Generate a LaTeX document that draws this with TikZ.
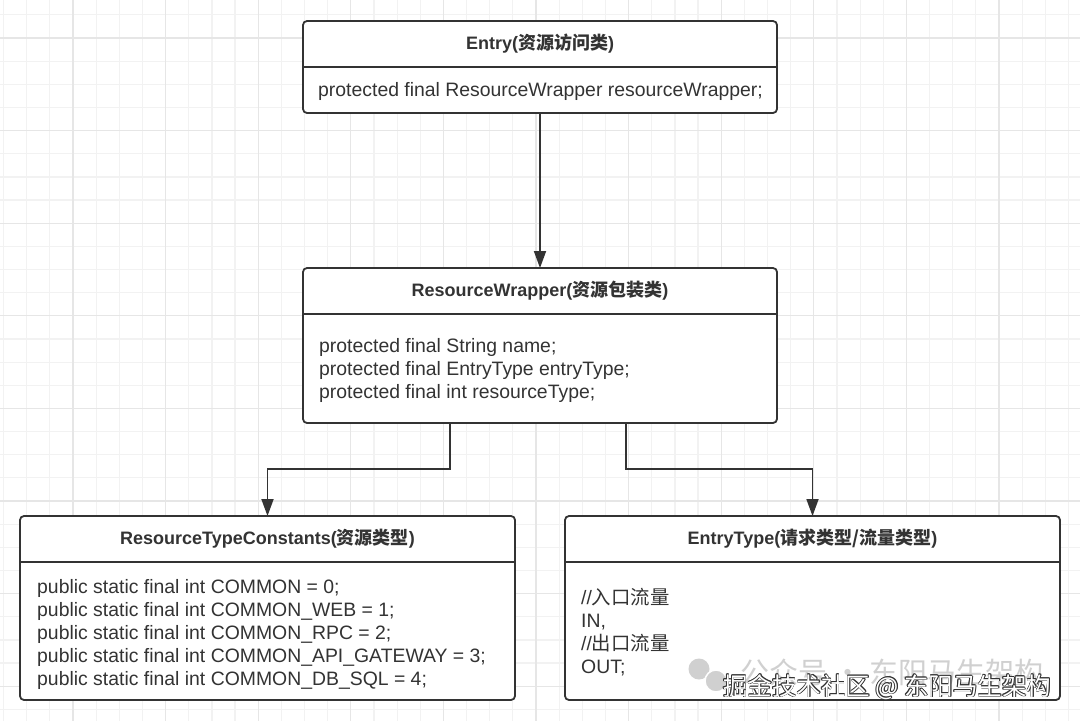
\documentclass[tikz,border=0pt]{standalone}
\usepackage{fontspec}
\setmainfont{Liberation Sans}
\newfontfamily\cjk{Noto Sans CJK SC}
\usepackage{xcolor}
\usetikzlibrary{positioning, arrows.meta}

\definecolor{inkgray}{HTML}{333333}
\definecolor{gridminor}{HTML}{F2F2F2}
\definecolor{gridmajor}{HTML}{E6E6E6}
\definecolor{markgray}{HTML}{D0D0D0}
\newcommand{\zh}[1]{{\cjk #1}}

\tikzset{
  classbox/.style={draw=inkgray, line width=1.8pt, fill=white, rectangle, rounded corners=4pt, inner sep=0pt, outer sep=0pt},
  classhead/.style={rectangle, inner sep=0pt, outer sep=0pt, minimum height=46pt, font=\fontsize{18}{22}\selectfont\bfseries, text=inkgray},
  fields/.style={anchor=west, align=left, inner sep=0pt, font=\fontsize{19.4}{23}\selectfont, text=inkgray},
  divider/.style={draw=inkgray, line width=1.8pt},
  link/.style={draw=inkgray, line width=1.8pt, -{Triangle[width=12pt,length=17pt]}},
}

\begin{document}
\begin{tikzpicture}[x=1pt, y=-1pt]
            % Background grid
            \fill[white] (0,0) rectangle (1080,721);
            \useasboundingbox (0,0) rectangle (1080,721);
            \foreach \gx in {3.55,26.7,...,1080} \draw[gridminor, line width=1.2pt] (\gx,0) -- (\gx,721);
            \foreach \gy in {14.85,38,...,721} \draw[gridminor, line width=1.2pt] (0,\gy) -- (1080,\gy);
            \foreach \gx in {73,165.6,...,1080} \draw[gridmajor, line width=1.2pt] (\gx,0) -- (\gx,721);
            \foreach \gy in {38,130.6,...,721} \draw[gridmajor, line width=1.2pt] (0,\gy) -- (1080,\gy);

            % Nodes
            \node [classbox, minimum width=474pt, minimum height=92pt] (entry) at (540,67) {};
            \node [classhead, minimum width=474pt, below=0pt of entry.north] (entryhead) {Entry(\zh{资源访问类})};
            \node [fields] (entryfields) at (318,91.5) {protected final ResourceWrapper resourceWrapper;};

            \node [classbox, minimum width=474pt, minimum height=155pt] (wrapper) at (540,345.5) {};
            \node [classhead, minimum width=474pt, below=0pt of wrapper.north] (wrapperhead) {ResourceWrapper(\zh{资源包装类})};
            \node [fields] (wrapperfields) at (319,370.5) {protected final String name;\\protected final EntryType entryType;\\protected final int resourceType;};

            \node [classbox, minimum width=495pt, minimum height=184pt] (constants) at (267.5,608) {};
            \node [classhead, minimum width=495pt, below=0pt of constants.north] (constantshead) {ResourceTypeConstants(\zh{资源类型})};
            \node [fields] (constantsfields) at (37,634.5) {public static final int COMMON = 0;\\public static final int COMMON\_WEB = 1;\\public static final int COMMON\_RPC = 2;\\public static final int COMMON\_API\_GATEWAY = 3;\\public static final int COMMON\_DB\_SQL = 4;};

            \node [classbox, minimum width=495pt, minimum height=184pt] (entrytype) at (812.5,608) {};
            \node [classhead, minimum width=495pt, below=0pt of entrytype.north] (entrytypehead) {EntryType(\zh{请求类型/流量类型})};
            \node [fields] (entrytypefields) at (581,632.5) {//\zh{入口流量}\\IN,\\//\zh{出口流量}\\OUT;};

            % Dividers
            \draw [divider] (entryhead.south west) -- (entryhead.south east);
            \draw [divider] (wrapperhead.south west) -- (wrapperhead.south east);
            \draw [divider] (constantshead.south west) -- (constantshead.south east);
            \draw [divider] (entrytypehead.south west) -- (entrytypehead.south east);

            % Arrows
            \draw [link] (entry.south) -- (wrapper.north);
            \draw [link] ([xshift=-90pt]wrapper.south) -- ++(0,46) -| (constants.north);
            \draw [link] ([xshift=86pt]wrapper.south) -- ++(0,46) -| (entrytype.north);

            % Watermark
            \fill[markgray] (699,669) circle (10.5);
            \filldraw[fill=markgray, draw=white, line width=1.5pt] (716,681) circle (11);
            \node [anchor=west, inner sep=0pt, text=markgray, font=\fontsize{29}{32}\selectfont] (account) at (740,672) {\zh{公众号 · 东阳马生架构}};
            \foreach \dx/\dy [count=\k] in {0.7/0,-0.7/0,0/0.7,0/-0.7,0.5/0.5,-0.5/0.5,0.5/-0.5,-0.5/-0.5}
              \node [anchor=west, inner sep=0pt, text=inkgray, font=\fontsize{24.5}{27}\selectfont, xshift=\dx pt, yshift=\dy pt] (juejinedge\k) at (723,687) {\zh{掘金技术社区 @ 东阳马生架构}};
            \node [anchor=west, inner sep=0pt, text=white, font=\fontsize{24.5}{27}\selectfont] (juejin) at (723,687) {\zh{掘金技术社区 @ 东阳马生架构}};

\end{tikzpicture}
\end{document}
